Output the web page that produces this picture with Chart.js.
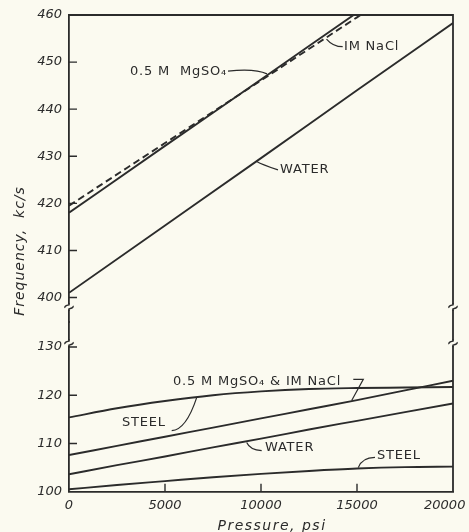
<!DOCTYPE html>
<html>
<head>
<meta charset="utf-8">
<script src="https://cdn.jsdelivr.net/npm/chart.js@4.4.1/dist/chart.umd.min.js"></script>
<style>
  html, body { margin: 0; padding: 0; background: #fbfaf0; }
  #wrap { width: 469px; height: 532px; }
</style>
</head>
<body>
<div id="wrap"><canvas id="myChart" width="469" height="532"></canvas></div>
<script>
// pressure (psi) used for the upper panel (near-straight lines)
const pressureUpper = [0, 5000, 10000, 15000, 20000];
const mgso4Upper = [418.0, 432.2, 446.3, 460.5, 474.6];
const naclUpper = [419.5, 432.8, 446.1, 459.5, 472.8];
const waterUpper = [401.0, 415.3, 429.6, 444.0, 458.3];

// pressure (psi) used for the lower panel
const pressureLower = [0, 2500, 5000, 7500, 10000, 12500, 15000, 17500, 20000];
const steelHigh = [115.4, 117.3, 118.8, 120.0, 120.8, 121.3, 121.5, 121.6, 121.7];
const solutionsLower = [107.6, 109.5, 111.4, 113.3, 115.2, 117.1, 119.0, 121.0, 123.0];
const waterLower = [103.6, 105.5, 107.3, 109.2, 111.0, 112.9, 114.7, 116.5, 118.3];
const steelLow = [100.5, 101.4, 102.2, 103.0, 103.7, 104.3, 104.8, 105.1, 105.2];

// tick labels
const xTicks = [0, 5000, 10000, 15000, 20000];
const yUpperTicks = [400, 410, 420, 430, 440, 450, 460];
const yLowerTicks = [100, 110, 120, 130];

// curve labels (data coordinates)
const curveLabels = [
  { text: '0.5 M  MgSO\u2084', x: 3177, y: 447.9, axis: 'yTop' },
  { text: 'IM NaCl', x: 14323, y: 453.2, axis: 'yTop' },
  { text: 'WATER', x: 10990, y: 427.1, axis: 'yTop' },
  { text: '0.5 M MgSO\u2084 & IM NaCl', x: 5417, y: 122.75, axis: 'yBot' },
  { text: 'STEEL', x: 2760, y: 114.24, axis: 'yBot' },
  { text: 'WATER', x: 10208, y: 109.06, axis: 'yBot' },
  { text: 'STEEL', x: 16042, y: 107.4, axis: 'yBot' }
];
const leaders = [
  { axis: 'yTop', curve: true, pts: [[8281, 448.1], [9687, 448.7], [10312, 447.5]] },
  { axis: 'yTop', curve: true, pts: [[14254, 453.27], [13750, 453.27], [13411, 454.9]] },
  { axis: 'yTop', curve: true, pts: [[10885, 427.1], [10052, 428.25], [9775, 428.9]] },
  { axis: 'yBot', curve: false, pts: [[14807, 123.3], [15328, 123.3], [14723, 118.9]] },
  { axis: 'yBot', curve: true, pts: [[5349, 112.65], [6094, 112.8], [6650, 119.5]] },
  { axis: 'yBot', curve: true, pts: [[10036, 108.5], [9427, 108.65], [9255, 110.2]] },
  { axis: 'yBot', curve: true, pts: [[15937, 107.13], [15260, 107.1], [15067, 105.0]] }
];
// axis break marks
const breaks = [{ axis: 'yTop', v: 398.0 }, { axis: 'yBot', v: 130.8 }];

const ink = '#2b2b2b';
const paper = '#fbfaf0';

function pts(xs, ys) {
  return xs.map((x, i) => ({ x: x, y: ys[i] }));
}

function line(label, xs, ys, axis, extra) {
  return Object.assign({
    label: label,
    data: pts(xs, ys),
    yAxisID: axis,
    borderColor: ink,
    borderWidth: 1.9,
    pointRadius: 0,
    fill: false,
    cubicInterpolationMode: 'monotone'
  }, extra || {});
}

const tickFont = { family: 'DejaVu Sans', style: 'italic', size: 13 };

const decor = {
  id: 'decor',
  afterDraw(chart) {
    const { ctx, chartArea: a, scales } = chart;
    const sx = scales.x;
    ctx.save();
    ctx.strokeStyle = ink;
    ctx.fillStyle = ink;
    ctx.lineWidth = 1.8;

    // top and right frame
    ctx.beginPath();
    ctx.moveTo(a.left, a.top);
    ctx.lineTo(a.right, a.top);
    ctx.lineTo(a.right, a.bottom);
    ctx.stroke();

    // inward tick marks
    ctx.lineWidth = 1.4;
    ctx.beginPath();
    yUpperTicks.filter(v => v < 460).forEach(v => {
      const py = scales.yTop.getPixelForValue(v);
      ctx.moveTo(a.left, py); ctx.lineTo(a.left + 8, py);
    });
    yLowerTicks.filter(v => v > 100).forEach(v => {
      const py = scales.yBot.getPixelForValue(v);
      ctx.moveTo(a.left, py); ctx.lineTo(a.left + 8, py);
    });
    xTicks.filter(v => v > 0 && v < 20000).forEach(v => {
      const px = sx.getPixelForValue(v);
      ctx.moveTo(px, a.bottom); ctx.lineTo(px, a.bottom - 8);
    });
    ctx.stroke();

    // break marks on both vertical edges
    breaks.forEach(b => {
      const py = scales[b.axis].getPixelForValue(b.v);
      [a.left, a.right].forEach(px => {
        ctx.fillStyle = paper;
        ctx.fillRect(px - 3, py - 2.5, 6, 5);
        ctx.beginPath();
        ctx.moveTo(px, py - 4);
        ctx.lineTo(px, py - 2);
        ctx.quadraticCurveTo(px - 5, py - 1, px - 4, py + 1);
        ctx.moveTo(px + 4, py - 1);
        ctx.quadraticCurveTo(px + 5, py + 1, px, py + 2);
        ctx.lineTo(px, py + 4);
        ctx.stroke();
      });
    });

    // leaders
    ctx.lineWidth = 1.2;
    leaders.forEach(l => {
      const sy = scales[l.axis];
      const p = l.pts.map(q => [sx.getPixelForValue(q[0]), sy.getPixelForValue(q[1])]);
      ctx.beginPath();
      ctx.moveTo(p[0][0], p[0][1]);
      if (l.curve) {
        ctx.quadraticCurveTo(p[1][0], p[1][1], p[2][0], p[2][1]);
      } else {
        ctx.lineTo(p[1][0], p[1][1]);
        ctx.lineTo(p[2][0], p[2][1]);
      }
      ctx.stroke();
    });

    // curve labels
    ctx.fillStyle = ink;
    ctx.font = '13px "DejaVu Sans"';
    ctx.letterSpacing = '0.8px';
    ctx.textBaseline = 'middle';
    ctx.textAlign = 'left';
    curveLabels.forEach(l => {
      ctx.fillText(l.text, sx.getPixelForValue(l.x), scales[l.axis].getPixelForValue(l.y));
    });

    // axis titles
    ctx.font = 'italic 14px "DejaVu Sans"';
    ctx.letterSpacing = '1.5px';
    ctx.textAlign = 'center';
    ctx.fillText('Pressure, psi', (a.left + a.right) / 2 + 11, 526);
    ctx.save();
    ctx.translate(20, 251);
    ctx.rotate(-Math.PI / 2);
    ctx.letterSpacing = '1px';
    ctx.fillText('Frequency,  kc/s', 0, 0);
    ctx.restore();

    ctx.restore();
  }
};

function fitY(scale) {
  scale.width = 69;
  scale.paddingTop = 0;
  scale.paddingBottom = 0;
}

// last x label is pulled inward so it stays on the page, as in the original
function xLabel(v) {
  return v === 20000 ? String(v) + '\u2007\u2007' : String(v);
}

const canvas = document.querySelector('#myChart');
const myChart = new Chart(canvas.getContext('2d'), {
  type: 'line',
  data: {
    datasets: [
      line('0.5 M MgSO4', pressureUpper, mgso4Upper, 'yTop', { tension: 0 }),
      line('1 M NaCl', pressureUpper, naclUpper, 'yTop', { tension: 0, borderDash: [7, 4] }),
      line('Water', pressureUpper, waterUpper, 'yTop', { tension: 0 }),
      line('Steel', pressureLower, steelHigh, 'yBot'),
      line('0.5 M MgSO4 & 1 M NaCl', pressureLower, solutionsLower, 'yBot'),
      line('Water', pressureLower, waterLower, 'yBot'),
      line('Steel', pressureLower, steelLow, 'yBot')
    ]
  },
  options: {
    responsive: false,
    animation: false,
    devicePixelRatio: 1,
    layout: { padding: { top: 15, right: 16, left: 0, bottom: 0 } },
    plugins: { legend: { display: false }, tooltip: { enabled: false } },
    scales: {
      x: {
        type: 'linear',
        min: 0,
        max: 20000,
        grid: { display: false, drawTicks: false },
        border: { display: true, color: ink, width: 1.8 },
        afterBuildTicks: s => { s.ticks = xTicks.map(v => ({ value: v })); },
        afterFit: s => { s.height = 40.3; s.paddingLeft = 0; s.paddingRight = 0; },
        ticks: { font: tickFont, color: ink, padding: 6, maxRotation: 0, callback: xLabel }
      },
      // listed first: the stack places it at the bottom
      yBot: {
        type: 'linear',
        position: 'left',
        stack: 'freq',
        stackWeight: 169.7,
        min: 100,
        max: 135.19,
        grid: { display: false, drawTicks: false },
        border: { display: true, color: ink, width: 1.8 },
        afterBuildTicks: s => { s.ticks = yLowerTicks.map(v => ({ value: v })); },
        afterFit: fitY,
        ticks: { font: tickFont, color: ink, padding: 7, callback: v => String(v) }
      },
      yTop: {
        type: 'linear',
        position: 'left',
        stack: 'freq',
        stackWeight: 307,
        min: 394.8,
        max: 460,
        grid: { display: false, drawTicks: false },
        border: { display: true, color: ink, width: 1.8 },
        afterBuildTicks: s => { s.ticks = yUpperTicks.map(v => ({ value: v })); },
        afterFit: fitY,
        ticks: { font: tickFont, color: ink, padding: 7, callback: v => String(v) }
      }
    }
  },
  plugins: [decor]
});
</script>
</body>
</html>
